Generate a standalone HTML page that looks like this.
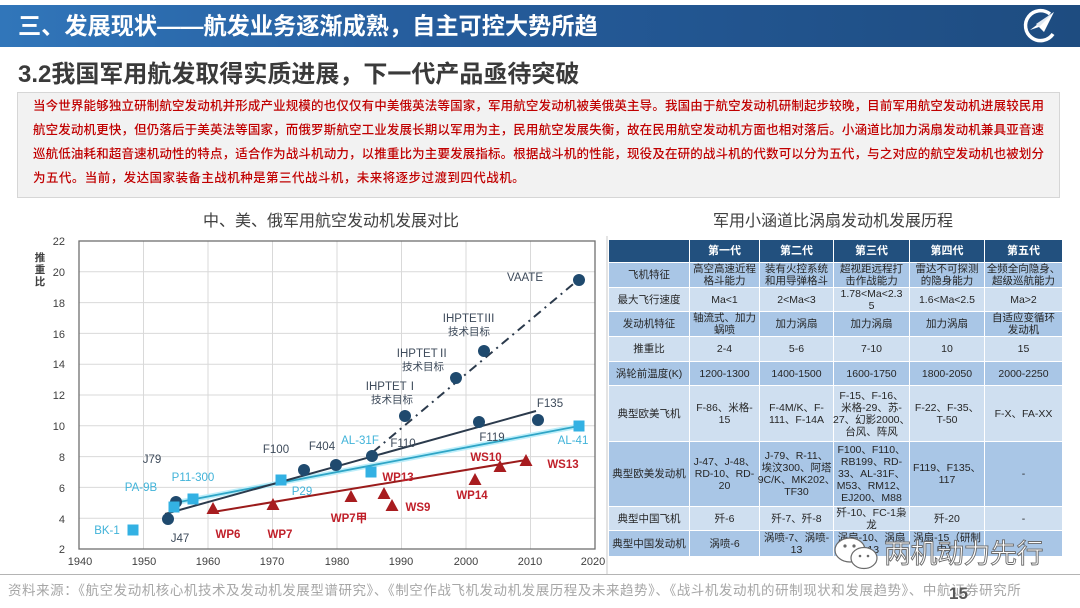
<!DOCTYPE html>
<html><head><meta charset="utf-8">
<style>
*{box-sizing:border-box}
body{margin:0;width:1080px;height:608px;position:relative;overflow:hidden;background:#fff;font-family:"Liberation Sans","Noto Sans CJK SC",sans-serif}
.hdr{position:absolute;left:0;top:5px;width:1080px;height:42px;background:linear-gradient(90deg,#3176ba 0%,#255c9c 40%,#1e4c80 100%)}
.hdr .t{position:absolute;left:18px;top:0;line-height:42px;font-size:23.2px;font-weight:bold;color:#fff;white-space:nowrap}
.sub{position:absolute;left:18px;top:60px;line-height:30px;font-size:24px;font-weight:bold;color:#3a3a3a;white-space:nowrap}
.box{position:absolute;left:17px;top:92px;width:1043px;height:106px;background:#f2f2f2;border:1px solid #d6d6d6;padding:1px 0 0 15px}
.box div{font-size:12.5px;line-height:24px;color:#c00000;white-space:nowrap;font-weight:500;width:1011px;text-align:justify;text-align-last:justify}
.box div.last{text-align:left;text-align-last:left;width:auto;letter-spacing:0.45px}
.ct{position:absolute;font-size:16px;color:#404040;white-space:nowrap;line-height:20px}
.grid{position:absolute;left:609px;top:240px;display:grid;grid-template-columns:80px 69px 73px 75px 74px 77px;grid-template-rows:22px 24px 23px 24px 24px 23px 55px 64px 23px 25px;gap:1px;background:#fff}
.grid div{display:flex;align-items:center;justify-content:center;text-align:center;font-size:10.5px;line-height:12px;color:#262626;white-space:nowrap}
.grid .h{background:#22507e;color:#fff;font-weight:bold;font-size:11px}
.grid .d{background:#a9c6e6}
.grid .l{background:#cfdff0}
.foot{position:absolute;left:0;top:574px;width:1080px;height:1px;background:#b4b4b4}
.src{position:absolute;left:8px;top:582px;font-size:13.5px;line-height:18px;color:#a6a6a6;white-space:nowrap;letter-spacing:0.55px}
.pg{position:absolute;left:949px;top:584px;font-size:17px;line-height:20px;color:#595959;font-weight:bold}
.wm{position:absolute;left:884px;top:537px;font-size:27px;line-height:34px;color:#fff;-webkit-text-stroke:0.9px #6a6a6a;white-space:nowrap;letter-spacing:-0.5px}
</style></head><body>

<div class="hdr"><div class="t">三、发展现状——航发业务逐渐成熟，自主可控大势所趋</div>
<svg style="position:absolute;left:1020px;top:3px" width="40" height="38" viewBox="0 0 40 38">
<path d="M30 6 A15 15 0 1 0 33 26" fill="none" stroke="#fff" stroke-width="3.5"/>
<path d="M10 22 L34 4 L24 24 L19 19 Z" fill="#fff"/>
<path d="M19 19 L34 4 L16 16 Z" fill="#dfe8f2"/>
<ellipse cx="20" cy="28" rx="6" ry="2.5" fill="#1e4c80"/>
</svg>
</div>

<div class="sub">3.2我国军用航发取得实质进展，下一代产品亟待突破</div>

<div class="box">
<div>当今世界能够独立研制航空发动机并形成产业规模的也仅仅有中美俄英法等国家，军用航空发动机被美俄英主导。我国由于航空发动机研制起步较晚，目前军用航空发动机进展较民用</div>
<div>航空发动机更快，但仍落后于美英法等国家，而俄罗斯航空工业发展长期以军用为主，民用航空发展失衡，故在民用航空发动机方面也相对落后。小涵道比加力涡扇发动机兼具亚音速</div>
<div>巡航低油耗和超音速机动性的特点，适合作为战斗机动力，以推重比为主要发展指标。根据战斗机的性能，现役及在研的战斗机的代数可以分为五代，与之对应的航空发动机也被划分</div>
<div class="last">为五代。当前，发达国家装备主战机种是第三代战斗机，未来将逐步过渡到四代战机。</div>
</div>

<div class="ct" style="left:203px;top:212px">中、美、俄军用航空发动机发展对比</div>
<div class="ct" style="left:713px;top:212px">军用小涵道比涡扇发动机发展历程</div>

<svg style="position:absolute;left:0;top:0" width="610" height="574" viewBox="0 0 610 574" font-family="Liberation Sans, Noto Sans CJK SC, sans-serif">
<g stroke="#d9d9d9" stroke-width="1">
<line x1="143.5" y1="241" x2="143.5" y2="549"/><line x1="208" y1="241" x2="208" y2="549"/><line x1="272.5" y1="241" x2="272.5" y2="549"/><line x1="337" y1="241" x2="337" y2="549"/><line x1="401.5" y1="241" x2="401.5" y2="549"/><line x1="466" y1="241" x2="466" y2="549"/><line x1="530.5" y1="241" x2="530.5" y2="549"/>
<line x1="79" y1="518.2" x2="595" y2="518.2"/><line x1="79" y1="487.4" x2="595" y2="487.4"/><line x1="79" y1="456.6" x2="595" y2="456.6"/><line x1="79" y1="425.8" x2="595" y2="425.8"/><line x1="79" y1="395" x2="595" y2="395"/><line x1="79" y1="364.2" x2="595" y2="364.2"/><line x1="79" y1="333.4" x2="595" y2="333.4"/><line x1="79" y1="302.6" x2="595" y2="302.6"/><line x1="79" y1="271.8" x2="595" y2="271.8"/>
</g>
<rect x="79" y="241" width="516" height="308" fill="none" stroke="#6f6f6f" stroke-width="1.3"/>
<line x1="607" y1="236" x2="607" y2="574" stroke="#c8c8c8" stroke-width="1"/>
<g font-size="11" fill="#404040" text-anchor="end">
<text x="65" y="245">22</text><text x="65" y="276">20</text><text x="65" y="307">18</text><text x="65" y="338">16</text><text x="65" y="368">14</text><text x="65" y="399">12</text><text x="65" y="430">10</text><text x="65" y="461">8</text><text x="65" y="492">6</text><text x="65" y="523">4</text><text x="65" y="553">2</text>
</g>
<g font-size="11" fill="#404040" text-anchor="middle">
<text x="80" y="565">1940</text><text x="144" y="565">1950</text><text x="208" y="565">1960</text><text x="272" y="565">1970</text><text x="337" y="565">1980</text><text x="401" y="565">1990</text><text x="466" y="565">2000</text><text x="530" y="565">2010</text><text x="593" y="565">2020</text>
</g>
<g font-size="10.5" font-weight="bold" fill="#404040" text-anchor="middle">
<text x="40" y="261">推</text><text x="40" y="273">重</text><text x="40" y="285">比</text>
</g>
<line x1="174" y1="503" x2="579" y2="426" stroke="#bdeefa" stroke-width="5"/>
<line x1="174" y1="503" x2="579" y2="426" stroke="#2fa5c6" stroke-width="1.8"/>
<line x1="165" y1="514" x2="536" y2="411" stroke="#2b3a4c" stroke-width="2"/>
<line x1="373" y1="452" x2="578" y2="280" stroke="#2b3a4c" stroke-width="2" stroke-dasharray="9,5,2,5"/>
<line x1="213" y1="512" x2="526" y2="460" stroke="#9b1b1b" stroke-width="2"/>
<g fill="#1f4a6e">
<circle cx="168" cy="519" r="6"/><circle cx="176" cy="502" r="6"/><circle cx="304" cy="470" r="6"/><circle cx="336" cy="465" r="6"/><circle cx="372" cy="456" r="6"/><circle cx="405" cy="416" r="6"/><circle cx="456" cy="378" r="6"/><circle cx="484" cy="351" r="6"/><circle cx="579" cy="280" r="6"/><circle cx="479" cy="422" r="6"/><circle cx="538" cy="420" r="6"/>
</g>
<g fill="#33b1e3">
<rect x="127.5" y="524.5" width="11" height="11"/><rect x="168.5" y="501.5" width="11" height="11"/><rect x="187.5" y="493.5" width="11" height="11"/><rect x="275.5" y="474.5" width="11" height="11"/><rect x="365.5" y="466.5" width="11" height="11"/><rect x="573.5" y="420.5" width="11" height="11"/>
</g>
<g fill="#a81c1f">
<polygon points="213,502 206.5,514 219.5,514"/><polygon points="273,498 266.5,510 279.5,510"/><polygon points="351,490 344.5,502 357.5,502"/><polygon points="384,487 377.5,499 390.5,499"/><polygon points="392,499 385.5,511 398.5,511"/><polygon points="475,473 468.5,485 481.5,485"/><polygon points="500,460 493.5,472 506.5,472"/><polygon points="526,454 519.5,466 532.5,466"/>
</g>
<g font-size="11.5" fill="#3d4a5a" text-anchor="middle">
<text x="180" y="542">J47</text><text x="152" y="463">J79</text><text x="276" y="453">F100</text><text x="322" y="450">F404</text><text x="403" y="447">F110</text><text x="492" y="441">F119</text><text x="550" y="407">F135</text><text x="525" y="281">VAATE</text>
<text x="469" y="322">IHPTETⅢ</text><text x="469" y="335" font-size="10.5">技术目标</text>
<text x="423" y="357">IHPTETⅡ</text><text x="423" y="370" font-size="10.5">技术目标</text>
<text x="392" y="390">IHPTETⅠ</text><text x="392" y="403" font-size="10.5">技术目标</text>
</g>
<g font-size="11.5" fill="#41b3d9" text-anchor="middle">
<text x="107" y="534">BK-1</text><text x="141" y="491">PA-9B</text><text x="193" y="481">P11-300</text><text x="302" y="495">P29</text><text x="360" y="444">AL-31F</text><text x="573" y="444">AL-41</text>
</g>
<g font-size="11.5" font-weight="bold" fill="#c0202a" text-anchor="middle">
<text x="228" y="538">WP6</text><text x="280" y="538">WP7</text><text x="349" y="522">WP7甲</text><text x="398" y="481">WP13</text><text x="418" y="511">WS9</text><text x="472" y="499">WP14</text><text x="486" y="461">WS10</text><text x="563" y="468">WS13</text>
</g>
</svg>

<div class="grid">
<div class="h"></div><div class="h">第一代</div><div class="h">第二代</div><div class="h">第三代</div><div class="h">第四代</div><div class="h">第五代</div>
<div class="d">飞机特征</div><div class="d">高空高速近程<br>格斗能力</div><div class="d">装有火控系统<br>和用导弹格斗</div><div class="d">超视距远程打<br>击作战能力</div><div class="d">雷达不可探测<br>的隐身能力</div><div class="d">全频全向隐身、<br>超级巡航能力</div>
<div class="l">最大飞行速度</div><div class="l">Ma&lt;1</div><div class="l">2&lt;Ma&lt;3</div><div class="l">1.78&lt;Ma&lt;2.3<br>5</div><div class="l">1.6&lt;Ma&lt;2.5</div><div class="l">Ma&gt;2</div>
<div class="d">发动机特征</div><div class="d">轴流式、加力<br>蜗喷</div><div class="d">加力涡扇</div><div class="d">加力涡扇</div><div class="d">加力涡扇</div><div class="d">自适应变循环<br>发动机</div>
<div class="l">推重比</div><div class="l">2-4</div><div class="l">5-6</div><div class="l">7-10</div><div class="l">10</div><div class="l">15</div>
<div class="d">涡轮前温度(K)</div><div class="d">1200-1300</div><div class="d">1400-1500</div><div class="d">1600-1750</div><div class="d">1800-2050</div><div class="d">2000-2250</div>
<div class="l">典型欧美飞机</div><div class="l">F-86、米格-<br>15</div><div class="l">F-4M/K、F-<br>111、F-14A</div><div class="l">F-15、F-16、<br>米格-29、苏-<br>27、幻影2000、<br>台风、阵风</div><div class="l">F-22、F-35、<br>T-50</div><div class="l">F-X、FA-XX</div>
<div class="d">典型欧美发动机</div><div class="d">J-47、J-48、<br>RD-10、RD-<br>20</div><div class="d">J-79、R-11、<br>埃汶300、阿塔<br>9C/K、MK202、<br>TF30</div><div class="d">F100、F110、<br>RB199、RD-<br>33、AL-31F、<br>M53、RM12、<br>EJ200、M88</div><div class="d">F119、F135、<br>117</div><div class="d">-</div>
<div class="l">典型中国飞机</div><div class="l">歼-6</div><div class="l">歼-7、歼-8</div><div class="l">歼-10、FC-1枭<br>龙</div><div class="l">歼-20</div><div class="l">-</div>
<div class="d">典型中国发动机</div><div class="d">涡喷-6</div><div class="d">涡喷-7、涡喷-<br>13</div><div class="d">涡扇-10、涡扇<br>-13</div><div class="d">涡扇-15（研制<br>中）</div><div class="d">-</div>
</div>

<div class="foot"></div>
<div class="src">资料来源：《航空发动机核心机技术及发动机发展型谱研究》、《制空作战飞机发动机发展历程及未来趋势》、《战斗机发动机的研制现状和发展趋势》、中航证券研究所</div>
<div class="pg">15</div>

<svg style="position:absolute;left:832px;top:536px" width="52" height="36" viewBox="0 0 52 36">
<ellipse cx="18" cy="14" rx="15" ry="12" fill="#fff" stroke="#6a6a6a" stroke-width="1.2"/>
<ellipse cx="32" cy="22" rx="13" ry="10.5" fill="#fff" stroke="#6a6a6a" stroke-width="1.2"/>
<circle cx="13" cy="10" r="1.6" fill="#6a6a6a"/><circle cx="22" cy="10" r="1.6" fill="#6a6a6a"/>
<circle cx="28" cy="20" r="1.3" fill="#6a6a6a"/><circle cx="36" cy="20" r="1.3" fill="#6a6a6a"/>
</svg>
<div class="wm">两机动力先行</div>

</body></html>
